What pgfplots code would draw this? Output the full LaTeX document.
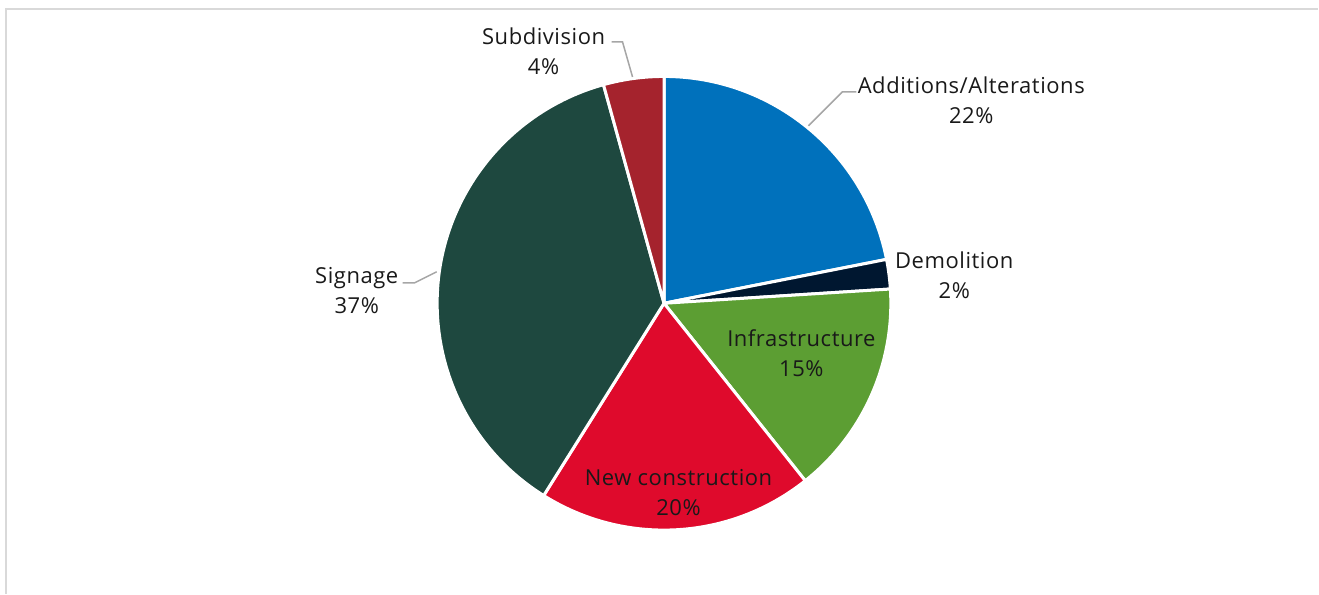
\documentclass[border=0pt]{standalone}
\usepackage{pgfplots}
\pgfplotsset{compat=1.18}
\usepackage{pgfplotstable}
\usepackage{fontspec}
\setmainfont{Open Sans}[LetterSpace=2.5]
\definecolor{c0}{HTML}{0071BC}
\definecolor{c1}{HTML}{001730}
\definecolor{c2}{HTML}{5C9E33}
\definecolor{c3}{HTML}{DF0A2C}
\definecolor{c4}{HTML}{1E483F}
\definecolor{c5}{HTML}{A5232D}
\definecolor{leader}{HTML}{A6A6A6}
\definecolor{frame}{HTML}{D9D9D9}

\pgfplotstableread[col sep=comma]{
label,value
Additions/Alterations,21.9
Demolition,2.1
Infrastructure,15.3
New construction,19.6
Signage,36.8
Subdivision,4.3
}\piedata

\begin{document}
\begin{tikzpicture}
\gdef\cum{0}
\foreach \i in {0,...,5}{%
  \pgfplotstablegetelem{\i}{value}\of\piedata
  \pgfmathsetmacro\s{90-3.6*\cum}%
  \pgfmathsetmacro\c{\cum+\pgfplotsretval}%
  \pgfmathsetmacro\e{90-3.6*\c}%
  \xdef\cum{\c}%
  \expandafter\xdef\csname sa\i\endcsname{\s}%
  \expandafter\xdef\csname ea\i\endcsname{\e}%
}
\begin{axis}[
  x=0.5pt, y=0.5pt,
  xmin=0, xmax=1319, ymin=0, ymax=594,
  hide axis, clip=false,
]
\path (axis cs:0,0) rectangle (axis cs:1319,594);
\draw[frame, line width=1pt] (axis cs:6.5,0) -- (axis cs:6.5,585) -- (axis cs:1319,585);
\pgfplotsinvokeforeach{0,...,5}{%
  \fill[c#1, draw=white, line width=1.5pt, line join=round]
    (axis cs:664.5,290.5) -- ++(\csname sa#1\endcsname:113.5pt)
    arc[start angle=\csname sa#1\endcsname, end angle=\csname ea#1\endcsname, radius=113.5pt] -- cycle;
}
% leader lines
\draw[leader, line width=0.75pt] (axis cs:612,552) -- (axis cs:623,552) -- (axis cs:633,517);
\draw[leader, line width=0.75pt] (axis cs:857,502) -- (axis cs:843,502) -- (axis cs:809,468);
\draw[leader, line width=0.75pt] (axis cs:403,311) -- (axis cs:415,311) -- (axis cs:437,322);
% labels
\tikzset{lab/.style={align=center, font=\fontsize{11}{15}\selectfont, text=black!90, inner sep=0pt}}
\node[lab] at (axis cs:544,543) {Subdivision\\4\%};
\node[lab] at (axis cs:972,494) {Additions/Alterations\\22\%};
\node[lab] at (axis cs:955,319) {Demolition\\2\%};
\node[lab] at (axis cs:802,241) {Infrastructure\\15\%};
\node[lab] at (axis cs:679,101) {New construction\\20\%};
\node[lab] at (axis cs:357,303) {Signage\\37\%};
\end{axis}
\end{tikzpicture}
\end{document}
